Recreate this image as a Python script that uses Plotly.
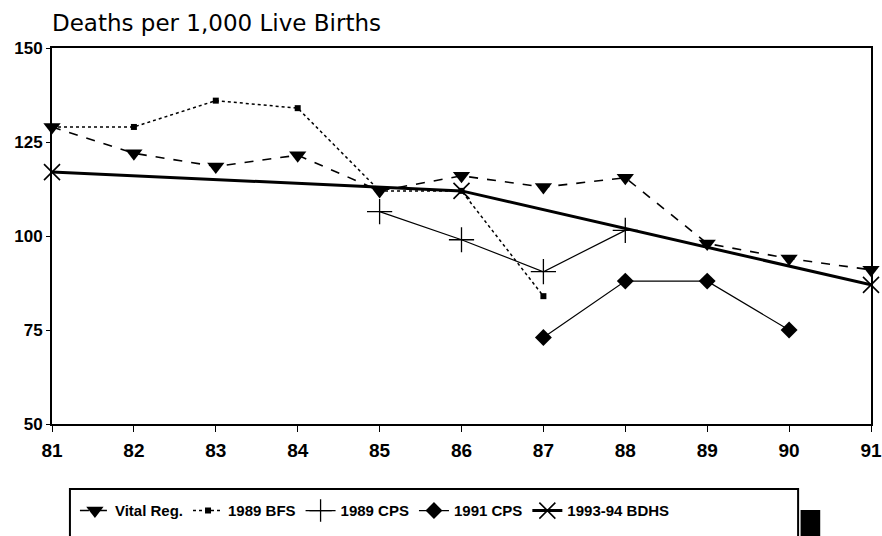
import plotly.graph_objects as go

# Years (19xx) and infant mortality estimates
years = [81, 82, 83, 84, 85, 86, 87, 88, 89, 90, 91]
vital_reg = [129, 122, 118.5, 121.5, 112, 116, 113, 115.5, 98, 94, 91]
bfs_1989 = [129, 129, 136, 134, 112, 112, 84, None, None, None, None]
cps_1989 = [None, None, None, None, 106.5, 99, 90.5, 101.5, None, None, None]
cps_1991 = [None, None, None, None, None, None, 73, 88, 88, 75, None]
bdhs_years = [81, 86, 91]
bdhs = [117, 112, 87]

y_ticks = [50, 75, 100, 125, 150]

fig = go.Figure()
fig.add_trace(go.Scatter(
    x=years, y=vital_reg, name="Vital Reg.", mode="lines+markers",
    line=dict(color="black", width=1.6, dash="dash"),
    marker=dict(symbol="triangle-down", size=15, color="black"),
    cliponaxis=False))
fig.add_trace(go.Scatter(
    x=years, y=bfs_1989, name="1989 BFS", mode="lines+markers",
    line=dict(color="black", width=1.5, dash="dot"),
    marker=dict(symbol="square", size=6, color="black"),
    cliponaxis=False))
fig.add_trace(go.Scatter(
    x=years, y=cps_1989, name="1989 CPS", mode="lines+markers",
    line=dict(color="black", width=1.2),
    marker=dict(symbol="cross-thin-open", size=18, line=dict(color="black", width=1.3)),
    cliponaxis=False))
fig.add_trace(go.Scatter(
    x=years, y=cps_1991, name="1991 CPS", mode="lines+markers",
    line=dict(color="black", width=1.2),
    marker=dict(symbol="diamond", size=13, color="black"),
    cliponaxis=False))
fig.add_trace(go.Scatter(
    x=bdhs_years, y=bdhs, name="1993-94 BDHS", mode="lines+markers",
    line=dict(color="black", width=3),
    marker=dict(symbol="x-thin-open", size=16, line=dict(color="black", width=1.6)),
    cliponaxis=False))

# legend frame (runs off the bottom of the page) and the black block beside it
fig.add_shape(type="rect", xref="paper", yref="paper",
              x0=0.0219, x1=0.911, y0=-0.33, y1=-0.1729,
              line=dict(color="black", width=2))
fig.add_shape(type="rect", xref="paper", yref="paper",
              x0=0.914, x1=0.938, y0=-0.33, y1=-0.2287,
              fillcolor="black", line=dict(color="black", width=0))

fig.update_layout(
    width=882, height=536,
    margin=dict(l=52, r=11, t=48, b=112, autoexpand=False),
    paper_bgcolor="white", plot_bgcolor="white",
    font=dict(family="Liberation Sans, Arial, sans-serif", color="black"),
    title=dict(text="Deaths per 1,000 Live Births", x=0.0, xref="paper", xanchor="left",
               y=0.958, yref="container", yanchor="middle",
               font=dict(family="DejaVu Sans, sans-serif", size=23, color="black")),
    xaxis=dict(range=[81, 91], tickvals=years, ticktext=[str(v) for v in years],
               showgrid=False, zeroline=False, showline=True, linecolor="black",
               linewidth=2, mirror=True, ticks="outside", ticklen=6, tickcolor="black",
               ticklabelstandoff=2, ticklabeloverflow="allow",
               tickfont=dict(size=19, weight="bold")),
    yaxis=dict(range=[50, 150], tickvals=y_ticks, showgrid=False, zeroline=False,
               showline=True, linecolor="black", linewidth=2, mirror=True,
               ticks="outside", ticklen=4, tickcolor="black",
               tickfont=dict(size=17, weight="bold")),
    showlegend=True,
    legend=dict(orientation="h", x=0.028, xanchor="left", y=-0.187, yanchor="top",
                font=dict(size=15, weight="bold"), bgcolor="rgba(0,0,0,0)",
                itemwidth=30, tracegroupgap=0),
)

# drop the page's default body margin so the figure fills the window exactly
fig.write_html("out.html", config={"displayModeBar": False},
               post_script="document.body.style.margin='0';"
               "document.body.style.overflow='hidden';")
